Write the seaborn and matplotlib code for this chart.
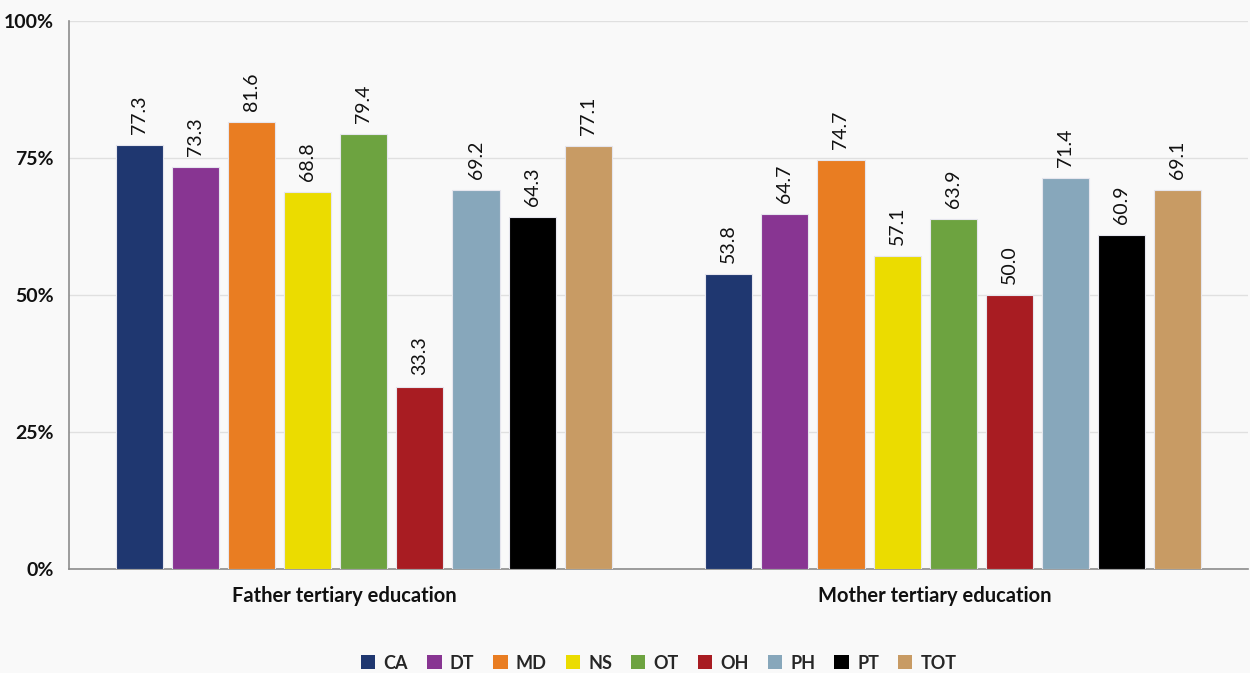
import matplotlib
matplotlib.use("Agg")
import matplotlib.pyplot as plt
import matplotlib.transforms as mtransforms
import seaborn as sns
import pandas as pd
from matplotlib.patches import Patch
from matplotlib.ticker import FixedLocator

categories = ["Father tertiary education", "Mother tertiary education"]
groups = ["CA", "DT", "MD", "NS", "OT", "OH", "PH", "PT", "TOT"]
father = [77.3, 73.3, 81.6, 68.8, 79.4, 33.3, 69.2, 64.3, 77.1]
mother = [53.8, 64.7, 74.7, 57.1, 63.9, 50.0, 71.4, 60.9, 69.1]
colors = ["#1f3770", "#883592", "#e97d22", "#ebdc00", "#6da340",
          "#a81c22", "#87a7bb", "#000000", "#c89b64"]
y_ticks = [0, 25, 50, 75, 100]
y_tick_labels = ["0%", "25%", "50%", "75%", "100%"]

rows = []
for g, f, m in zip(groups, father, mother):
    rows.append({"category": categories[0], "group": g, "value": f})
    rows.append({"category": categories[1], "group": g, "value": m})
df = pd.DataFrame(rows)

sns.set_theme(style="white")
fonts = ["Lato", "DejaVu Sans"]
plt.rcParams["font.family"] = fonts

bg = "#f9f9f9"
fig = plt.figure(figsize=(12.5, 6.73), dpi=100, facecolor=bg)
ax = fig.add_axes([0.0552, 0.1545, 0.9432, 0.8143])
ax.set_facecolor(bg)

sns.barplot(data=df, x="category", y="value", hue="group", order=categories,
            hue_order=groups, palette=colors, saturation=1, width=0.857, gap=0.16,
            edgecolor="#e6e6ee", linewidth=0.8, legend=False, ax=ax, zorder=3)

for container in ax.containers:
    ax.bar_label(container, fmt="%.1f", rotation=90, padding=8,
                 fontsize=14, color="#111111", family=fonts)

ax.set_ylim(0, 100)
ax.set_xlim(-0.5, 1.5)
ax.yaxis.set_major_locator(FixedLocator(y_ticks))
ax.set_yticklabels(y_tick_labels, fontsize=14, fontweight="bold", color="#111111")
ax.set_xlabel("")
ax.set_ylabel("")
ax.grid(axis="y", color="#e0e0e0", linewidth=1, zorder=0)

# category labels, drawn slightly left of the group centres
ax.set_xticks([0, 1])
ax.set_xticklabels(["", ""])
label_tf = (mtransforms.blended_transform_factory(ax.transData, ax.transAxes)
            + mtransforms.ScaledTranslation(-0.19, -0.165, fig.dpi_scale_trans))
for i, cat in enumerate(categories):
    ax.text(i, 0, cat, transform=label_tf, ha="center", va="top",
            fontsize=14.5, fontweight="bold", color="#111111")

for side in ["top", "right"]:
    ax.spines[side].set_visible(False)
for side in ["left", "bottom"]:
    ax.spines[side].set_color("#8c8c8c")
    ax.spines[side].set_linewidth(1.2)

ax.tick_params(axis="y", direction="out", length=7, width=1.2, color="#8c8c8c", pad=4)
ax.tick_params(axis="x", length=0, pad=12)
# minor tick marking the boundary between the two categories
ax.set_xticks([0.5], minor=True)
ax.tick_params(axis="x", which="minor", direction="out", length=4, width=1.5, color="#8c8c8c")

handles = [Patch(facecolor=c, edgecolor="none") for c in colors]
leg = fig.legend(handles, groups, loc="lower center", bbox_to_anchor=(0.527, -0.022),
                 ncol=len(groups), frameon=False, handlelength=0.8, handleheight=0.8,
                 handletextpad=0.45, columnspacing=1.05,
                 prop={"size": 13, "weight": "bold", "family": fonts})

fig.savefig("out.png", dpi=100, facecolor=bg)
